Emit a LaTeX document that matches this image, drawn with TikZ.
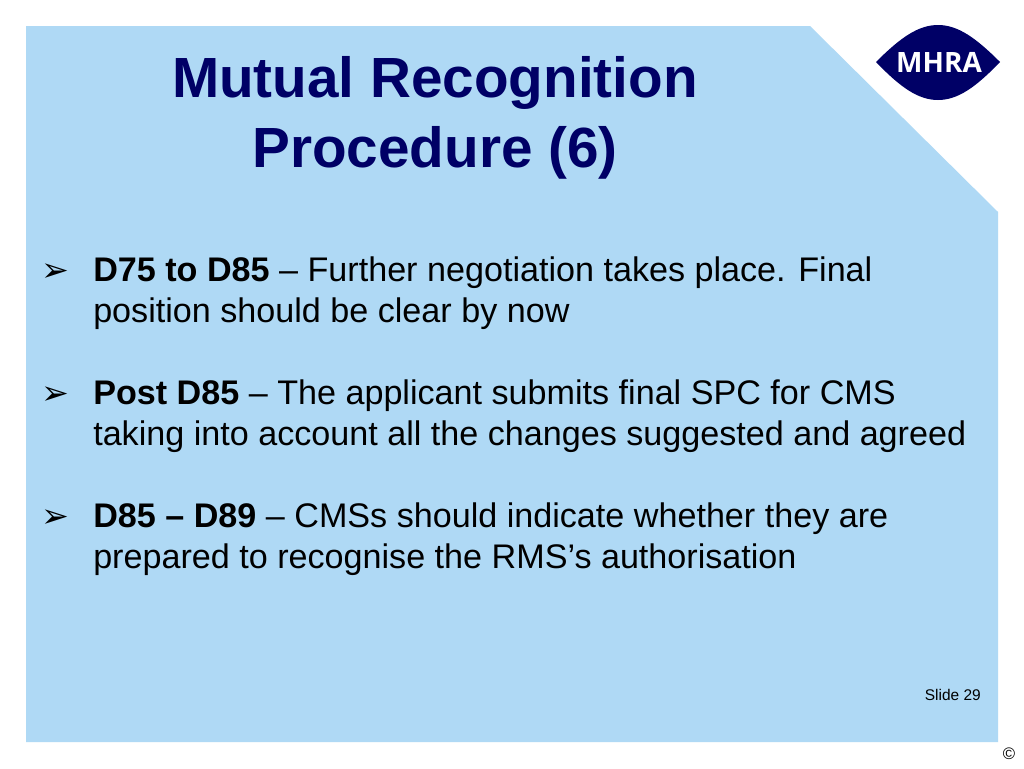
\documentclass[tikz,border=0pt]{standalone}
\usepackage{fontspec}
\setmainfont{Liberation Sans}
\newfontfamily\bulletfont{DejaVu Sans}
\newfontfamily\logofont{Open Sans}
\usetikzlibrary{positioning}
\definecolor{panelblue}{HTML}{AFD9F5}
\definecolor{mhranavy}{HTML}{000066}
\tikzset{
    titleline/.style={anchor=base,text=mhranavy,font=\fontsize{42.5}{50}\selectfont\bfseries,inner sep=0pt},
    bodyline/.style={anchor=base west,font=\fontsize{25.6}{30}\selectfont,inner sep=0pt},
    bulletmark/.style={anchor=base,font=\bulletfont\fontsize{25}{30}\selectfont,inner sep=0pt},
}
\begin{document}
\begin{tikzpicture}[x=0.75pt,y=-0.75pt]
    \useasboundingbox (0,0) rectangle (1024,768);
    \fill[white] (0,0) rectangle (1024,768);
    % panel with the cut corner
    \fill[panelblue] (26,26) -- (810,26) -- (998,212) -- (998,742) -- (26,742) -- cycle;
    % logo
    \fill[mhranavy] (876,62) .. controls (900,38) and (918,25) .. (938,25) .. controls (958,25) and (976,38) .. (1000,62)
        .. controls (976,87) and (958,100) .. (938,100) .. controls (918,100) and (900,87) .. (876,62) -- cycle;
    \node[anchor=base,text=white,font=\logofont\fontsize{21}{24}\selectfont\bfseries,inner sep=0pt] (logo) at (939,72.5) {MHRA};
    % title
    \node[titleline] (title1) at (435,97) {Mutual Recognition};
    \node[titleline] (title2) at (435,167) {Procedure (6)};
    % bullets
    \node[bulletmark] (bullet1) at (55,281) {➢};
    \node[bodyline] (line1) at (93,281) {\textbf{D75 to D85} – Further negotiation takes place. Final};
    \node[bodyline] (line2) at (93,322) {position should be clear by now};
    \node[bulletmark] (bullet2) at (55,404) {➢};
    \node[bodyline] (line3) at (93,404) {\textbf{Post D85} – The applicant submits final SPC for CMS};
    \node[bodyline] (line4) at (93,445) {taking into account all the changes suggested and agreed};
    \node[bulletmark] (bullet3) at (55,527) {➢};
    \node[bodyline] (line5) at (93,527) {\textbf{D85 – D89} – CMSs should indicate whether they are};
    \node[bodyline] (line6) at (93,568) {prepared to recognise the RMS’s authorisation};
    % footer
    \node[anchor=base east,font=\fontsize{11.6}{14}\selectfont,inner sep=0pt] (slideno) at (981,700) {Slide 29};
    \node[anchor=base,font=\fontsize{12.5}{15}\selectfont,inner sep=0pt] (copyr) at (1009,759) {©};
\end{tikzpicture}
\end{document}
